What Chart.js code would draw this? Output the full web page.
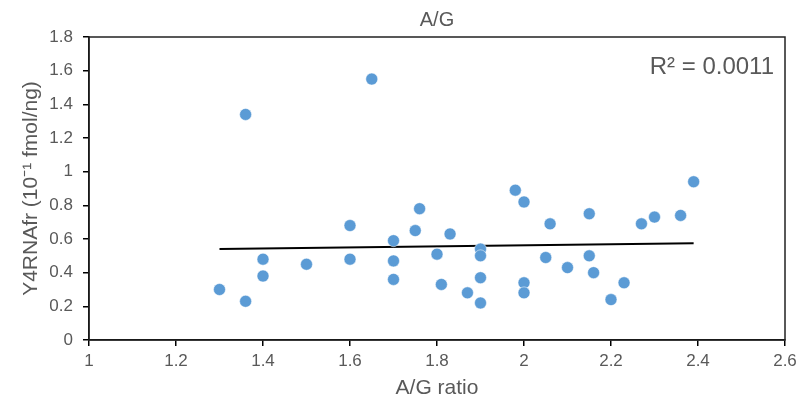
<!DOCTYPE html>
<html>
<head>
<meta charset="utf-8">
<script src="https://cdn.jsdelivr.net/npm/chart.js@4/dist/chart.umd.min.js"></script>
<style>
  html, body { margin: 0; padding: 0; background: #fff; }
  #wrap { width: 802px; height: 405px; }
</style>
</head>
<body>
<div id="wrap"><canvas id="chart" width="802" height="405"></canvas></div>
<script>
  // A/G ratio (x) vs Y4RNAfr (y)
  const ag_ratio = [1.30, 1.36, 1.36, 1.40, 1.40, 1.50, 1.60, 1.60, 1.65, 1.70, 1.70, 1.70,
      1.75, 1.76, 1.80, 1.81, 1.83, 1.87, 1.90, 1.90, 1.90, 1.90, 1.98, 2.00, 2.00, 2.00,
      2.05, 2.06, 2.10, 2.15, 2.15, 2.16, 2.20, 2.23, 2.27, 2.30, 2.36, 2.39];
  const y4rna = [0.30, 0.23, 1.34, 0.48, 0.38, 0.45, 0.68, 0.48, 1.55, 0.59, 0.47, 0.36,
      0.65, 0.78, 0.51, 0.33, 0.63, 0.28, 0.54, 0.50, 0.37, 0.22, 0.89, 0.82, 0.34, 0.28,
      0.49, 0.69, 0.43, 0.75, 0.50, 0.40, 0.24, 0.34, 0.69, 0.73, 0.74, 0.94];
  // linear trend line end points
  const trend_x = [1.30, 2.39];
  const trend_y = [0.54, 0.575];
  const r2_label = 'R² = 0.0011';

  const txt = '#595959';
  const font = "'Liberation Sans', Arial, sans-serif";

  const labels_plugin = {
      id: 'labels',
      afterDraw: (chart) => {
          const ctx = chart.ctx, a = chart.chartArea;
          ctx.save();
          // plot box
          ctx.strokeStyle = '#222';
          ctx.lineWidth = 1.5;
          ctx.strokeRect(a.left, a.top, a.right - a.left, a.bottom - a.top);
          ctx.fillStyle = txt;
          ctx.textAlign = 'center';
          ctx.textBaseline = 'middle';
          ctx.font = `20px ${font}`;
          ctx.fillText('A/G', (a.left + a.right) / 2, 20);
          ctx.font = `21px ${font}`;
          ctx.fillText('A/G ratio', (a.left + a.right) / 2, 388);
          ctx.save();
          ctx.translate(31, (a.top + a.bottom) / 2);
          ctx.rotate(-Math.PI / 2);
          ctx.fillText('Y4RNAfr (10⁻¹ fmol/ng)', 0, 0);
          ctx.restore();
          ctx.textAlign = 'right';
          ctx.font = `24px ${font}`;
          ctx.fillText(r2_label, a.right - 11, 67);
          ctx.restore();
      }
  };

  const fmt = v => Number(v.toFixed(1)).toString();

  new Chart(document.getElementById('chart'), {
      type: 'scatter',
      data: {
          datasets: [
              {
                  data: ag_ratio.map((x, i) => ({x: x, y: y4rna[i]})),
                  backgroundColor: '#5B9BD5',
                  borderColor: '#ffffff',
                  borderWidth: 0.5,
                  pointRadius: 6,
                  pointHoverRadius: 6
              },
              {
                  type: 'line',
                  data: trend_x.map((x, i) => ({x: x, y: trend_y[i]})),
                  borderColor: '#000000',
                  borderWidth: 2,
                  pointRadius: 0,
                  fill: false
              }
          ]
      },
      plugins: [labels_plugin],
      options: {
          responsive: false,
          animation: false,
          layout: {padding: {top: 37, right: 17, left: 0, bottom: 0}},
          plugins: {legend: {display: false}, title: {display: false}, tooltip: {enabled: false}},
          scales: {
              x: {
                  type: 'linear',
                  min: 1, max: 2.6,
                  afterFit: s => { s.height = 65; },
                  border: {display: true, color: '#000', width: 1.5},
                  grid: {drawOnChartArea: false, drawTicks: true, tickLength: 6, color: '#000', lineWidth: 1.5},
                  ticks: {stepSize: 0.2, callback: fmt, color: txt, font: {family: font, size: 17}, padding: 5, maxRotation: 0}
              },
              y: {
                  min: 0, max: 1.8,
                  afterFit: s => { s.width = 89; },
                  border: {display: true, color: '#000', width: 1.5},
                  grid: {drawOnChartArea: false, drawTicks: true, tickLength: 6, color: '#000', lineWidth: 1.5},
                  ticks: {stepSize: 0.2, callback: fmt, color: txt, font: {family: font, size: 17}, padding: 10}
              }
          }
      }
  });
</script>
</body>
</html>
